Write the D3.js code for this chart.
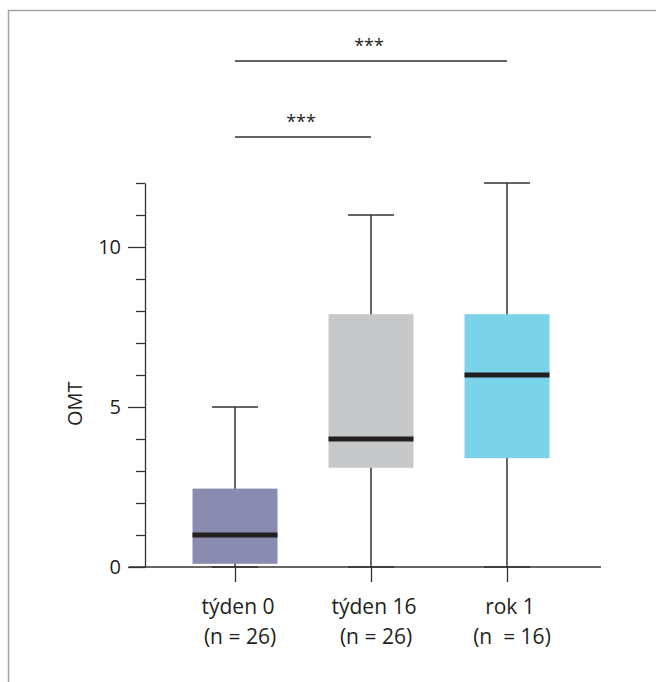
<!DOCTYPE html>
<html>
<head>
<meta charset="utf-8">
<script src="https://cdn.jsdelivr.net/npm/d3@7"></script>
<style>
  html, body { margin: 0; padding: 0; background: #fff; }
  text { font-family: "Open Sans", sans-serif; fill: #231f20; white-space: pre; }
</style>
</head>
<body>
<svg id="chart"></svg>
<script>
// data
const categories = ['týden 0', 'týden 16', 'rok 1'];
const counts = ['(n = 26)', '(n = 26)', '(n  = 16)'];
const whiskerLow = [0, 0, 0];
const q1 = [0.1, 3.1, 3.4];
const median = [1, 4, 6];
const q3 = [2.45, 7.9, 7.9];
const whiskerHigh = [5, 11, 12];
const boxColors = ['#898cb0', '#c7c8ca', '#7bd3ea'];
const yMajorTicks = [0, 5, 10];
const yMinorTicks = [1, 2, 3, 4, 6, 7, 8, 9, 11, 12];
const comparisons = [
    { from: 'týden 0', to: 'rok 1', label: '***', level: 0 },
    { from: 'týden 0', to: 'týden 16', label: '***', level: 1 }
];

const groups = categories.map((c, i) => ({
    cat: c, n: counts[i], lo: whiskerLow[i], q1: q1[i], med: median[i],
    q3: q3[i], hi: whiskerHigh[i], color: boxColors[i]
}));

const width = 656, height = 682;
const axisX = 145, axisBottom = 567, axisTop = 183;

const svg = d3.select('#chart')
    .attr('width', width)
    .attr('height', height);

// frame (top and left edges only)
svg.append('path')
    .attr('d', `M8.5,${height} V10.5 H${width}`)
    .attr('fill', 'none')
    .attr('stroke', '#a3a3a3')
    .attr('stroke-width', 1.5);

const x = d3.scalePoint()
    .domain(categories)
    .range([235, 507]);

const y = d3.scaleLinear()
    .domain([0, 12])
    .range([axisBottom, axisTop]);

const boxW = 85, capW = 46;
const ink = '#231f20';

// y axis
const yMajor = d3.axisLeft(y).tickValues(yMajorTicks).tickSize(17).tickPadding(7).tickSizeOuter(0);
const yMinor = d3.axisLeft(y).tickValues(yMinorTicks).tickSize(9).tickFormat('').tickSizeOuter(0);

const ygMinor = svg.append('g').attr('transform', `translate(${axisX},0)`).call(yMinor);
const ygMajor = svg.append('g').attr('transform', `translate(${axisX},0)`).call(yMajor);
ygMinor.select('.domain').remove();
[ygMinor, ygMajor].forEach(g => {
    g.selectAll('line').attr('stroke', '#333').attr('stroke-width', 1.3);
});
ygMajor.select('.domain').attr('stroke', '#333').attr('stroke-width', 1.3);
ygMajor.selectAll('text')
    .style('font-family', '"Open Sans", sans-serif')
    .attr('font-size', 20)
    .attr('fill', ink);

// x axis
const xg = svg.append('g')
    .attr('transform', `translate(0,${axisBottom})`)
    .call(d3.axisBottom(x).tickSize(15).tickSizeOuter(0).tickFormat(''));
xg.select('.domain').remove();
xg.selectAll('line').attr('stroke', '#333').attr('stroke-width', 1.3);
xg.append('line')
    .attr('x1', axisX - 16).attr('x2', 601)
    .attr('stroke', '#333').attr('stroke-width', 1.3);

// category labels
const labels = svg.append('g');
labels.selectAll('.cat')
    .data(groups)
    .enter().append('text')
    .attr('x', d => x(d.cat) + 3)
    .attr('y', 614)
    .attr('text-anchor', 'middle')
    .attr('font-size', 21)
    .text(d => d.cat);
labels.selectAll('.n')
    .data(groups)
    .enter().append('text')
    .attr('x', d => x(d.cat) + 5)
    .attr('y', 644)
    .attr('text-anchor', 'middle')
    .attr('font-size', 21)
    .text(d => d.n);

// y label
svg.append('text')
    .attr('transform', `translate(82,${y(5.1)}) rotate(-90)`)
    .attr('text-anchor', 'middle')
    .attr('font-size', 20)
    .text('OMT');

// boxes
const box = svg.append('g').selectAll('g')
    .data(groups)
    .enter().append('g');

box.append('line')
    .attr('x1', d => x(d.cat)).attr('x2', d => x(d.cat))
    .attr('y1', d => y(d.lo)).attr('y2', d => y(d.hi))
    .attr('stroke', '#333').attr('stroke-width', 1.5);

box.selectAll('.cap')
    .data(d => [d.lo, d.hi].map(v => ({ cat: d.cat, v })))
    .enter().append('line')
    .attr('x1', d => x(d.cat) - capW / 2).attr('x2', d => x(d.cat) + capW / 2)
    .attr('y1', d => y(d.v)).attr('y2', d => y(d.v))
    .attr('stroke', '#333').attr('stroke-width', 1.5);

box.append('rect')
    .attr('x', d => x(d.cat) - boxW / 2)
    .attr('width', boxW)
    .attr('y', d => y(d.q3))
    .attr('height', d => y(d.q1) - y(d.q3))
    .attr('fill', d => d.color);

box.append('line')
    .attr('x1', d => x(d.cat) - boxW / 2).attr('x2', d => x(d.cat) + boxW / 2)
    .attr('y1', d => y(d.med)).attr('y2', d => y(d.med))
    .attr('stroke', ink).attr('stroke-width', 5);

// significance brackets
const levelY = [61, 137];
const sig = svg.append('g').selectAll('g')
    .data(comparisons)
    .enter().append('g');
sig.append('line')
    .attr('x1', d => x(d.from)).attr('x2', d => x(d.to))
    .attr('y1', d => levelY[d.level]).attr('y2', d => levelY[d.level])
    .attr('stroke', '#333').attr('stroke-width', 1.5);
sig.append('text')
    .attr('x', d => (x(d.from) + x(d.to)) / 2 - 2)
    .attr('y', d => levelY[d.level] - 9)
    .attr('text-anchor', 'middle')
    .attr('font-size', 18)
    .text(d => d.label);
</script>
</body>
</html>
